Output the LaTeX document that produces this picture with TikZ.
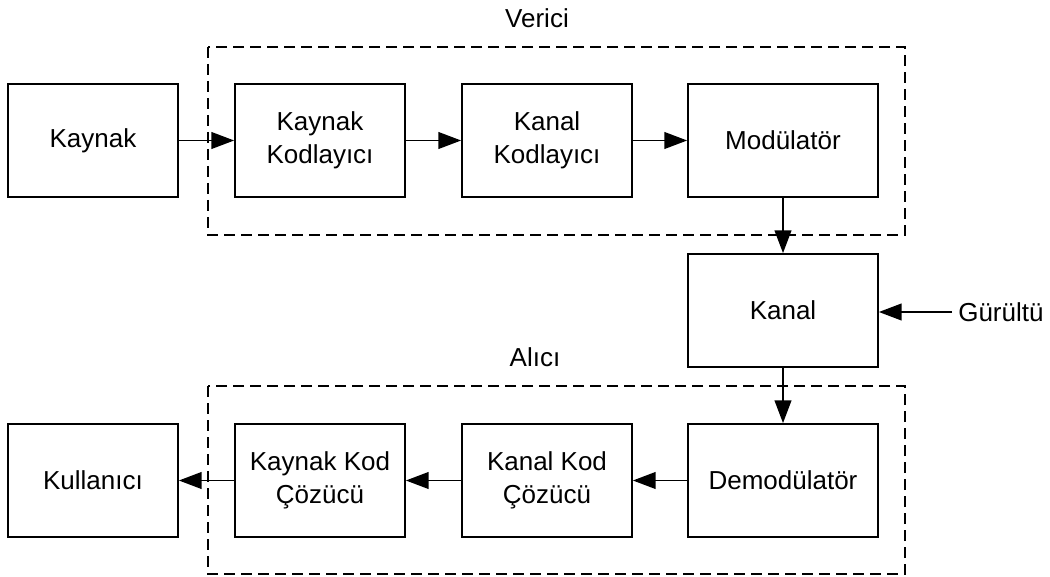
\documentclass[tikz,border=0pt]{standalone}
\usepackage{fontspec}
\setmainfont{Liberation Sans}
\usetikzlibrary{arrows.meta}
\begin{document}
\begin{tikzpicture}[x=0.75pt,y=-0.75pt,
  block/.style={draw, line width=1.3pt, minimum width=127.5pt, minimum height=84.75pt,
    align=center, font=\fontsize{19.5}{25}\selectfont, inner sep=0pt},
  wideblock/.style={block, minimum width=142.5pt},
  group/.style={draw, line width=1.2pt, dash pattern=on 8.25pt off 4.5pt},
  label/.style={font=\fontsize{19.5}{25}\selectfont, inner sep=0pt},
  flow/.style={line width=1.3pt, -{Triangle[length=17pt, width=12.5pt]}}]
\useasboundingbox (0,0) rectangle (1050,577);

% transmitter and receiver groups
\draw[group] (208,47) rectangle (905,235);
\draw[group] (208,386) rectangle (905,574);
\node[label] (verici) at (537,18) {Verici};
\node[label] (alici) at (535,357) {Alıcı};

% top row
\node[block] (kaynak) at (93,140.5) {Kaynak};
\node[block] (kkod) at (320,140.5) {Kaynak\\Kodlayıcı};
\node[block] (nkod) at (547,140.5) {Kanal\\Kodlayıcı};
\node[wideblock] (mod) at (783,140.5) {Modülatör};

% channel
\node[wideblock] (kanal) at (783,310.5) {Kanal};
\node[label, anchor=west] (gurultu) at (958,312) {Gürültü};
\coordinate (gin) at (952,312);

% bottom row
\node[wideblock] (demod) at (783,480.5) {Demodülatör};
\node[block] (ncoz) at (547,480.5) {Kanal Kod\\Çözücü};
\node[block] (kcoz) at (320,480.5) {Kaynak Kod\\Çözücü};
\node[block] (kull) at (93,480.5) {Kullanıcı};

% signal flow
\draw[flow] (kaynak) -- (kkod);
\draw[flow] (kkod) -- (nkod);
\draw[flow] (nkod) -- (mod);
\draw[flow] (mod) -- (kanal);
\draw[flow] (gin) -- (kanal.east |- gin);
\draw[flow] (kanal) -- (demod);
\draw[flow] (demod) -- (ncoz);
\draw[flow] (ncoz) -- (kcoz);
\draw[flow] (kcoz) -- (kull);
\end{tikzpicture}
\end{document}
